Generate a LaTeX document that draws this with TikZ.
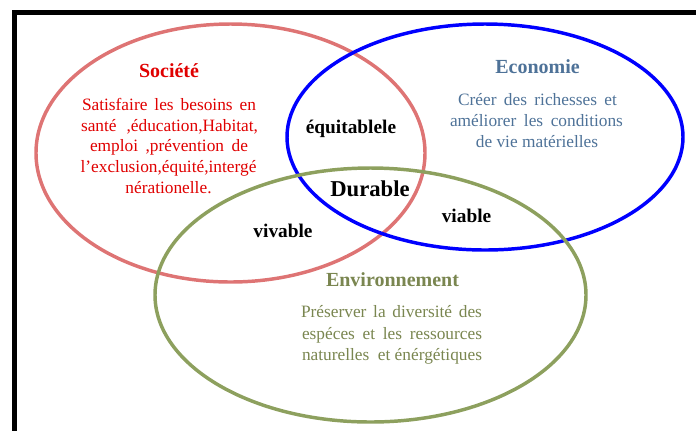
\documentclass[tikz,border=0pt]{standalone}
\usepackage{fontspec}
\setmainfont{Liberation Serif}
\definecolor{socred}{HTML}{E00000}
\definecolor{socring}{HTML}{DE7474}
\definecolor{ecoblue}{HTML}{4E7298}
\definecolor{envgreen}{HTML}{7A8650}
\definecolor{envring}{HTML}{8DA05E}
\newcommand{\myjust}[2]{\makebox[#1pt][s]{#2}}
\tikzset{
  ring/.style={line width=2.6pt},
  ttl/.style={anchor=base,inner sep=0pt,font=\fontsize{15}{18}\selectfont\bfseries},
  body/.style={anchor=base,inner sep=0pt,font=\fontsize{13}{15}\selectfont},
  lbl/.style={anchor=base,inner sep=0pt,font=\fontsize{14.5}{17}\selectfont\bfseries},
}
\begin{document}
\begin{tikzpicture}[x=0.75pt,y=-0.75pt]
\useasboundingbox (0,0) rectangle (696,430);
% frame
\coordinate (fb) at (14,440);
\coordinate (fc) at (14,12.5);
\coordinate (fr) at (705,12.5);
\draw[line width=3.75pt] (fb) -- (fc) -- (fr);
% rings
\path[draw=socring,ring] (230.5,153) ellipse [x radius=194.5,y radius=129];
\path[draw=blue,ring] (485,137) ellipse [x radius=198,y radius=113];
\path[draw=envring,ring] (370.5,295) ellipse [x radius=215.5,y radius=127];
% Société
\node[ttl,text=socred] (st) at (169,77) {Société};
\node[body,text=socred] (s1) at (169,110) {\myjust{130.5}{Satisfaire les besoins en}};
\node[body,text=socred] (s2) at (169.5,131) {\myjust{132.7}{santé ,éducation,Habitat,}};
\node[body,text=socred] (s3) at (169,151.5) {\myjust{118.5}{emploi ,prévention de}};
\node[body,text=socred] (s4) at (168.5,172) {l’exclusion,équité,intergé};
\node[body,text=socred] (s5) at (168.5,193) {nérationelle.};
% Economie
\node[ttl,text=ecoblue] (et) at (537.5,73) {Economie};
\node[body,text=ecoblue] (e1) at (537.5,105) {\myjust{119.2}{Créer des richesses et}};
\node[body,text=ecoblue] (e2) at (536.5,126) {\myjust{129.7}{améliorer les conditions}};
\node[body,text=ecoblue] (e3) at (537,147) {de vie matérielles};
% Environnement
\node[ttl,text=envgreen] (vt) at (392.5,286) {Environnement};
\node[body,text=envgreen] (v1) at (391.5,317.5) {\myjust{135.7}{Préserver la diversité des}};
\node[body,text=envgreen] (v2) at (392,339) {\myjust{135}{espéces et les ressources}};
\node[body,text=envgreen] (v3) at (392,360) {\myjust{135}{naturelles \ et énérgétiques}};
% intersection labels
\node[lbl] (eq) at (351,133) {équitablele};
\node[anchor=base,inner sep=0pt,font=\fontsize{17}{20}\selectfont\bfseries] (du) at (370,196.5) {Durable};
\node[lbl] (vi) at (466.5,222) {viable};
\node[lbl] (vv) at (283,237) {vivable};
\end{tikzpicture}
\end{document}
